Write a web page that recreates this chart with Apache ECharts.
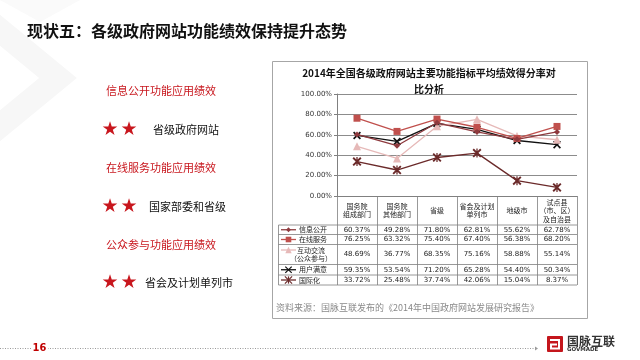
<!DOCTYPE html>
<html><head><meta charset="utf-8">
<script src="https://cdn.jsdelivr.net/npm/echarts@6/dist/echarts.min.js"></script>
<style>html,body{margin:0;padding:0;background:#fff}#c{width:640px;height:360px}</style>
</head><body><div id="c"></div>
<script>
// ---- data ----
const categories = ['国务院\n组成部门', '国务院\n其他部门', '省级', '省会及计划\n单列市', '地级市', '试点县\n（市、区）\n及自治县'];
const seriesNames = ['信息公开', '在线服务', '互动交流\n（公众参与）', '用户满意', '国际化'];
const infoOpen = [60.37, 49.28, 71.80, 62.81, 55.62, 62.78];
const onlineService = [76.25, 63.32, 75.40, 67.40, 56.38, 68.20];
const interaction = [48.69, 36.77, 68.35, 75.16, 58.88, 55.14];
const userSatisfaction = [59.35, 53.54, 71.20, 65.28, 54.40, 50.34];
const internationalization = [33.72, 25.48, 37.74, 42.06, 15.04, 8.37];
const yTickValues = [0, 20, 40, 60, 80, 100];
const chartTitle = '2014年全国各级政府网站主要功能指标平均绩效得分率对\n比分析';
const slideTitle = '现状五：各级政府网站功能绩效保持提升态势';
const highlights = [
  ['信息公开功能应用绩效', '省级政府网站'],
  ['在线服务功能应用绩效', '国家部委和省级'],
  ['公众参与功能应用绩效', '省会及计划单列市']
];
const sourceText = '资料来源：国脉互联发布的《2014年中国政府网站发展研究报告》';
const pageNumber = '16';

// ---- styles ----
const colors = ['#8E3A3E', '#C0504D', '#E6B9B8', '#111111', '#6B2A2A'];
const X_PATH = 'M0,1.5L1.5,0L5,3.5L8.5,0L10,1.5L6.5,5L10,8.5L8.5,10L5,6.5L1.5,10L0,8.5L3.5,5Z';
const AST_PATH = X_PATH + 'M4.3,0L5.7,0L5.7,10L4.3,10Z';
const symbols = ['diamond', 'rect', 'triangle', 'path://' + X_PATH, 'path://' + AST_PATH];
const symbolSizes = [6, 7, 8, 8, 9];
const allData = [infoOpen, onlineService, interaction, userSatisfaction, internationalization];
const CJK = '"Noto Sans CJK SC", "Noto Sans", sans-serif';

const chart = echarts.init(document.getElementById('c'), null, {renderer: 'canvas'});
const GRID = {left: 337, right: 63, top: 94, bottom: 164};

chart.setOption({
  animation: false,
  backgroundColor: '#fff',
  textStyle: {fontFamily: CJK},
  grid: GRID,
  xAxis: {
    type: 'category', data: categories, boundaryGap: true,
    axisLine: {show: true, lineStyle: {color: '#808080', width: 1}},
    axisTick: {show: false}, axisLabel: {show: false}
  },
  yAxis: {
    type: 'value', min: 0, max: 100, interval: 20,
    axisLine: {show: true, lineStyle: {color: '#808080', width: 1}},
    axisTick: {show: true, length: 3, lineStyle: {color: '#808080'}},
    axisLabel: {fontSize: 7, color: '#333', margin: 5, fontFamily: 'DejaVu Sans',
      formatter: v => yTickValues.includes(v) ? v.toFixed(2) + '%' : ''},
    splitLine: {show: true, lineStyle: {color: '#8c8c8c', width: 1}}
  },
  series: allData.map((d, i) => ({
    name: seriesNames[i], type: 'line', data: d,
    symbol: symbols[i], symbolSize: symbolSizes[i], showSymbol: true,
    lineStyle: {color: colors[i], width: 1.3},
    itemStyle: {color: colors[i]},
    z: 10 - i
  }))
});

// ---- table & decorations via graphic ----
const g = [];
// background chevrons
g.push({type: 'polyline', shape: {points: [[-10, 22], [58, 78], [-10, 134]]}, style: {stroke: '#f7f7f7', lineWidth: 24, fill: null}, z: -10, silent: true});
g.push({type: 'polygon', shape: {points: [[0, 0], [80, 0], [40, 22], [0, 0]]}, style: {fill: '#fafafa'}, z: -11, silent: true});

// slide title
g.push({type: 'text', x: 27, y: 31, style: {text: slideTitle, font: 'bold 16px ' + CJK, fill: '#111', textVerticalAlign: 'middle'}});

// highlights
const hY = [[91, 130], [168, 207], [245, 283]];
const labelX = [153, 149, 145];
highlights.forEach((h, i) => {
  g.push({type: 'text', x: 106, y: hY[i][0], style: {text: h[0], font: '11px ' + CJK, fill: '#C8161D', textVerticalAlign: 'middle'}});
  g.push({type: 'text', x: 110, y: hY[i][1], style: {text: '★', font: '19px "DejaVu Sans"', fill: '#C8161D', textAlign: 'center', textVerticalAlign: 'middle'}});
  g.push({type: 'text', x: 129, y: hY[i][1], style: {text: '★', font: '19px "DejaVu Sans"', fill: '#C8161D', textAlign: 'center', textVerticalAlign: 'middle'}});
  g.push({type: 'text', x: labelX[i], y: hY[i][1], style: {text: h[1], font: '11px ' + CJK, fill: '#111', textVerticalAlign: 'middle'}});
});

// chart frame
g.push({type: 'rect', shape: {x: 272.5, y: 61.5, width: 315, height: 257}, style: {fill: null, stroke: '#a6a6a6', lineWidth: 1}, z: -5});
g.push({type: 'text', x: 429, y: 81, style: {text: chartTitle, font: 'bold 10px ' + CJK, fill: '#111', textAlign: 'center', textVerticalAlign: 'middle', lineHeight: 16}});

// table geometry from axes
const bandW = chart.convertToPixel({xAxisIndex: 0}, categories[1]) - chart.convertToPixel({xAxisIndex: 0}, categories[0]);
const centers = categories.map(c => chart.convertToPixel({xAxisIndex: 0}, c));
const edges = [centers[0] - bandW / 2].concat(centers.map(c => c + bandW / 2));
const y0 = chart.convertToPixel({yAxisIndex: 0}, 0);
const rowEdges = [225, 234.5, 244.5, 264.5, 275, 285];
const tableLeft = 278.5;
const right = edges[edges.length - 1];
const L = (x1, y1, x2, y2, c, w) => g.push({type: 'line', shape: {x1, y1, x2, y2}, style: {stroke: c || '#7f7f7f', lineWidth: w || 0.8}, silent: true});
edges.forEach(x => L(Math.round(x) + 0.5, y0, Math.round(x) + 0.5, rowEdges[rowEdges.length - 1]));
rowEdges.forEach(y => L(tableLeft, y, right, y));
L(tableLeft, rowEdges[0], tableLeft, rowEdges[rowEdges.length - 1]);

// header text
categories.forEach((c, i) => {
  g.push({type: 'text', x: centers[i], y: (y0 + rowEdges[0]) / 2, style: {text: c, font: '7px ' + CJK, fill: '#222', textAlign: 'center', textVerticalAlign: 'middle', lineHeight: 8.5}});
});
// value cells & legend column
allData.forEach((d, r) => {
  const cy = (rowEdges[r] + rowEdges[r + 1]) / 2;
  d.forEach((v, i) => {
    g.push({type: 'text', x: centers[i], y: cy, style: {text: v.toFixed(2) + '%', font: '7px "DejaVu Sans"', fill: '#222', textAlign: 'center', textVerticalAlign: 'middle'}});
  });
  const multi = seriesNames[r].includes('\n');
  const sy = multi ? rowEdges[r] + 5.5 : cy;
  L(281, sy, 296, sy, colors[r], 1.3);
  const sx = 288.5, s = symbolSizes[r] * 0.8, h = s / 2;
  if (r === 0) g.push({type: 'polygon', shape: {points: [[sx, sy - h], [sx + h, sy], [sx, sy + h], [sx - h, sy]]}, style: {fill: colors[r]}});
  else if (r === 1) g.push({type: 'rect', shape: {x: sx - h, y: sy - h, width: s, height: s}, style: {fill: colors[r]}});
  else if (r === 2) g.push({type: 'polygon', shape: {points: [[sx, sy - h], [sx + h, sy + h], [sx - h, sy + h]]}, style: {fill: colors[r]}});
  else {
    L(sx - h, sy - h, sx + h, sy + h, colors[r], 1.2);
    L(sx - h, sy + h, sx + h, sy - h, colors[r], 1.2);
    if (r === 4) L(sx, sy - h, sx, sy + h, colors[r], 1.2);
  }
  if (multi) {
    g.push({type: 'text', x: 311, y: (rowEdges[r] + rowEdges[r + 1]) / 2, style: {text: seriesNames[r], font: '7px ' + CJK, fill: '#222', textAlign: 'center', textVerticalAlign: 'middle', lineHeight: 8.5}});
  } else {
    g.push({type: 'text', x: 299, y: cy, style: {text: seriesNames[r], font: '7px ' + CJK, fill: '#222', textVerticalAlign: 'middle'}});
  }
});

// source
g.push({type: 'text', x: 276, y: 308, style: {text: sourceText, font: '9px ' + CJK, fill: '#8a8a8a', textVerticalAlign: 'middle'}});

// footer
g.push({type: 'line', shape: {x1: 0, y1: 348.5, x2: 535, y2: 348.5}, style: {stroke: '#9a9a9a', lineWidth: 1, lineDash: [1, 1.5]}});
g.push({type: 'polygon', shape: {points: [[535, 346.5], [538, 348.5], [535, 350.5]]}, style: {fill: '#9a9a9a'}});
g.push({type: 'rect', shape: {x: 31, y: 340, width: 17, height: 16, r: 3}, style: {fill: '#fff'}});
g.push({type: 'text', x: 39.5, y: 348, style: {text: pageNumber, font: 'bold 11px "Liberation Sans Narrow", "DejaVu Sans Condensed", sans-serif', fill: '#C00000', textAlign: 'center', textVerticalAlign: 'middle'}});
g.push({type: 'rect', shape: {x: 547, y: 336, width: 16, height: 16, r: 1}, style: {fill: '#C4161C'}});
g.push({type: 'polyline', shape: {points: [[550, 340], [559, 340], [559, 348.5], [551, 348.5], [551, 344.5], [557, 344.5]]}, style: {fill: null, stroke: '#fff', lineWidth: 2}});
g.push({type: 'text', x: 567, y: 341, style: {text: '国脉互联', font: 'bold 12px ' + CJK, fill: '#333', textVerticalAlign: 'middle'}});
g.push({type: 'text', x: 567, y: 350, style: {text: 'GOVMADE', font: 'bold 5.5px "DejaVu Sans"', fill: '#333', textVerticalAlign: 'middle'}});

chart.setOption({graphic: {elements: g}});
</script>
</body></html>
